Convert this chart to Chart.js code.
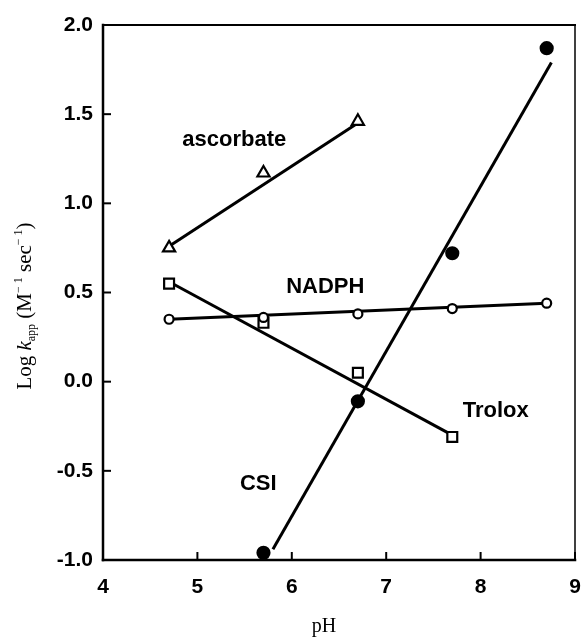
<!DOCTYPE html>
<html>
<head>
<meta charset="utf-8">
<script src="https://cdn.jsdelivr.net/npm/chart.js@4.4.1/dist/chart.umd.min.js"></script>
<style>
  html, body { margin: 0; padding: 0; background: #fff; }
  canvas { display: block; }
</style>
</head>
<body>
<canvas id="c" width="585" height="638"></canvas>
<script>
// Log k_app vs pH for four reductants, with fitted lines.

const ascPH = [4.7, 5.7, 6.7];
const ascorbate = [0.75, 1.17, 1.46];
const nadphPH = [4.7, 5.7, 6.7, 7.7, 8.7];
const nadph = [0.35, 0.36, 0.38, 0.41, 0.44];
const troloxPH = [4.7, 5.7, 6.7, 7.7];
const trolox = [0.55, 0.33, 0.05, -0.31];
const csiPH = [5.7, 6.7, 7.7, 8.7];
const csi = [-0.96, -0.11, 0.72, 1.87];

// fitted lines: [x0, x1], [y0, y1]
const ascFitX = [4.7, 6.7], ascFitY = [0.76, 1.45];
const nadphFitX = [4.7, 8.7], nadphFitY = [0.35, 0.44];
const troloxFitX = [4.7, 7.7], troloxFitY = [0.56, -0.30];
const csiFitX = [5.8, 8.75], csiFitY = [-0.94, 1.79];

const xTicks = [4, 5, 6, 7, 8, 9];
const yTicks = [-1.0, -0.5, 0.0, 0.5, 1.0, 1.5, 2.0];

// series labels, placed in data units (left edge, baseline)
const labelText = ['ascorbate', 'NADPH', 'Trolox', 'CSI'];
const labelX = [4.84, 5.94, 7.81, 5.45];
const labelY = [1.32, 0.50, -0.20, -0.61];

const pts = (xs, ys) => xs.map((x, i) => ({ x, y: ys[i] }));

function markers(xs, ys, style, radius, fill) {
  return {
    type: 'scatter',
    data: pts(xs, ys),
    showLine: false,
    pointStyle: style,
    pointRadius: radius,
    pointBorderWidth: 2.2,
    pointBorderColor: '#000',
    pointBackgroundColor: fill,
    order: 0,
  };
}

function fit(xs, ys) {
  return {
    type: 'line',
    data: pts(xs, ys),
    borderColor: '#000',
    borderWidth: 3,
    pointRadius: 0,
    fill: false,
    order: 1,
  };
}

const frame = {
  id: 'frame',
  afterDraw(chart) {
    const { ctx, chartArea: a, scales } = chart;
    const xs = scales.x, ys = scales.y;
    ctx.save();
    ctx.strokeStyle = '#000';
    ctx.lineCap = 'square';
    const seg = (x0, y0, x1, y1, w) => {
      ctx.lineWidth = w;
      ctx.beginPath();
      ctx.moveTo(x0, y0);
      ctx.lineTo(x1, y1);
      ctx.stroke();
    };
    seg(a.left, a.top, a.right, a.top, 2);
    seg(a.right, a.top, a.right, a.bottom, 1.5);
    seg(a.left, a.top, a.left, a.bottom, 2.5);
    seg(a.left, a.bottom, a.right, a.bottom, 2.5);
    // inward ticks
    yTicks.forEach((v) => {
      const y = ys.getPixelForValue(v);
      seg(a.left, y, a.left + 7, y, 2);
    });
    xTicks.forEach((v) => {
      const x = xs.getPixelForValue(v);
      seg(x, a.bottom, x, a.bottom - 7, 2);
    });

    // series labels
    ctx.fillStyle = '#000';
    ctx.font = 'bold 22px "Liberation Sans", Arial, sans-serif';
    ctx.textAlign = 'left';
    ctx.textBaseline = 'alphabetic';
    labelText.forEach((t, i) => {
      ctx.fillText(t, xs.getPixelForValue(labelX[i]), ys.getPixelForValue(labelY[i]));
    });

    // x title
    ctx.font = '20px "Liberation Serif", "Times New Roman", serif';
    ctx.textAlign = 'center';
    ctx.fillText('pH', 324, 632);

    // y title, rotated, with italic k, subscript and superscripts
    const big = '21px "Liberation Serif", "Times New Roman", serif';
    const ital = 'italic 21px "Liberation Serif", "Times New Roman", serif';
    const small = '12px "Liberation Serif", "Times New Roman", serif';
    const parts = [
      { t: 'Log ', f: big, dy: 0 },
      { t: 'k', f: ital, dy: 0 },
      { t: 'app', f: small, dy: 4 },
      { t: ' (M', f: big, dy: 0 },
      { t: '\u2212 ', f: small, dy: -9 },
      { t: '1', f: small, dy: -9 },
      { t: ' sec', f: big, dy: 0 },
      { t: '\u2212 ', f: small, dy: -9 },
      { t: '1', f: small, dy: -9 },
      { t: ')', f: big, dy: 0 },
    ];
    ctx.textAlign = 'left';
    let total = 0;
    parts.forEach((p) => { ctx.font = p.f; p.w = ctx.measureText(p.t).width; total += p.w; });
    ctx.translate(31, 306);
    ctx.rotate(-Math.PI / 2);
    let cx = -total / 2;
    parts.forEach((p) => {
      ctx.font = p.f;
      ctx.fillText(p.t, cx, p.dy);
      cx += p.w;
    });
    ctx.restore();
  },
};

new Chart(document.getElementById('c'), {
  data: {
    datasets: [
      markers(ascPH, ascorbate, 'triangle', 7, '#fff'),
      markers(nadphPH, nadph, 'circle', 4.5, '#fff'),
      markers(troloxPH, trolox, 'rect', 7, '#fff'),
      markers(csiPH, csi, 'circle', 6, '#000'),
      fit(ascFitX, ascFitY),
      fit(nadphFitX, nadphFitY),
      fit(troloxFitX, troloxFitY),
      fit(csiFitX, csiFitY),
    ],
  },
  options: {
    responsive: false,
    animation: false,
    layout: { padding: { left: 0, top: 25, right: 10, bottom: 0 } },
    plugins: { legend: { display: false }, tooltip: { enabled: false } },
    scales: {
      x: {
        type: 'linear',
        min: 4,
        max: 9,
        afterFit: (s) => { s.height = 78; s.paddingLeft = 0; s.paddingRight = 0; },
        afterBuildTicks: (s) => { s.ticks = xTicks.map((v) => ({ value: v })); },
        grid: { display: false, drawTicks: false },
        border: { display: false },
        ticks: {
          padding: 15,
          color: '#000',
          font: { family: '"Liberation Sans", Arial, sans-serif', size: 21, weight: 'bold' },
        },
      },
      y: {
        type: 'linear',
        min: -1,
        max: 2,
        afterFit: (s) => { s.width = 103; s.paddingTop = 0; s.paddingBottom = 0; },
        afterBuildTicks: (s) => { s.ticks = yTicks.map((v) => ({ value: v })); },
        grid: { display: false, drawTicks: false },
        border: { display: false },
        ticks: {
          padding: 10,
          color: '#000',
          callback: (v) => v.toFixed(1),
          font: { family: '"Liberation Sans", Arial, sans-serif', size: 21, weight: 'bold' },
        },
      },
    },
  },
  plugins: [frame],
});
</script>
</body>
</html>
